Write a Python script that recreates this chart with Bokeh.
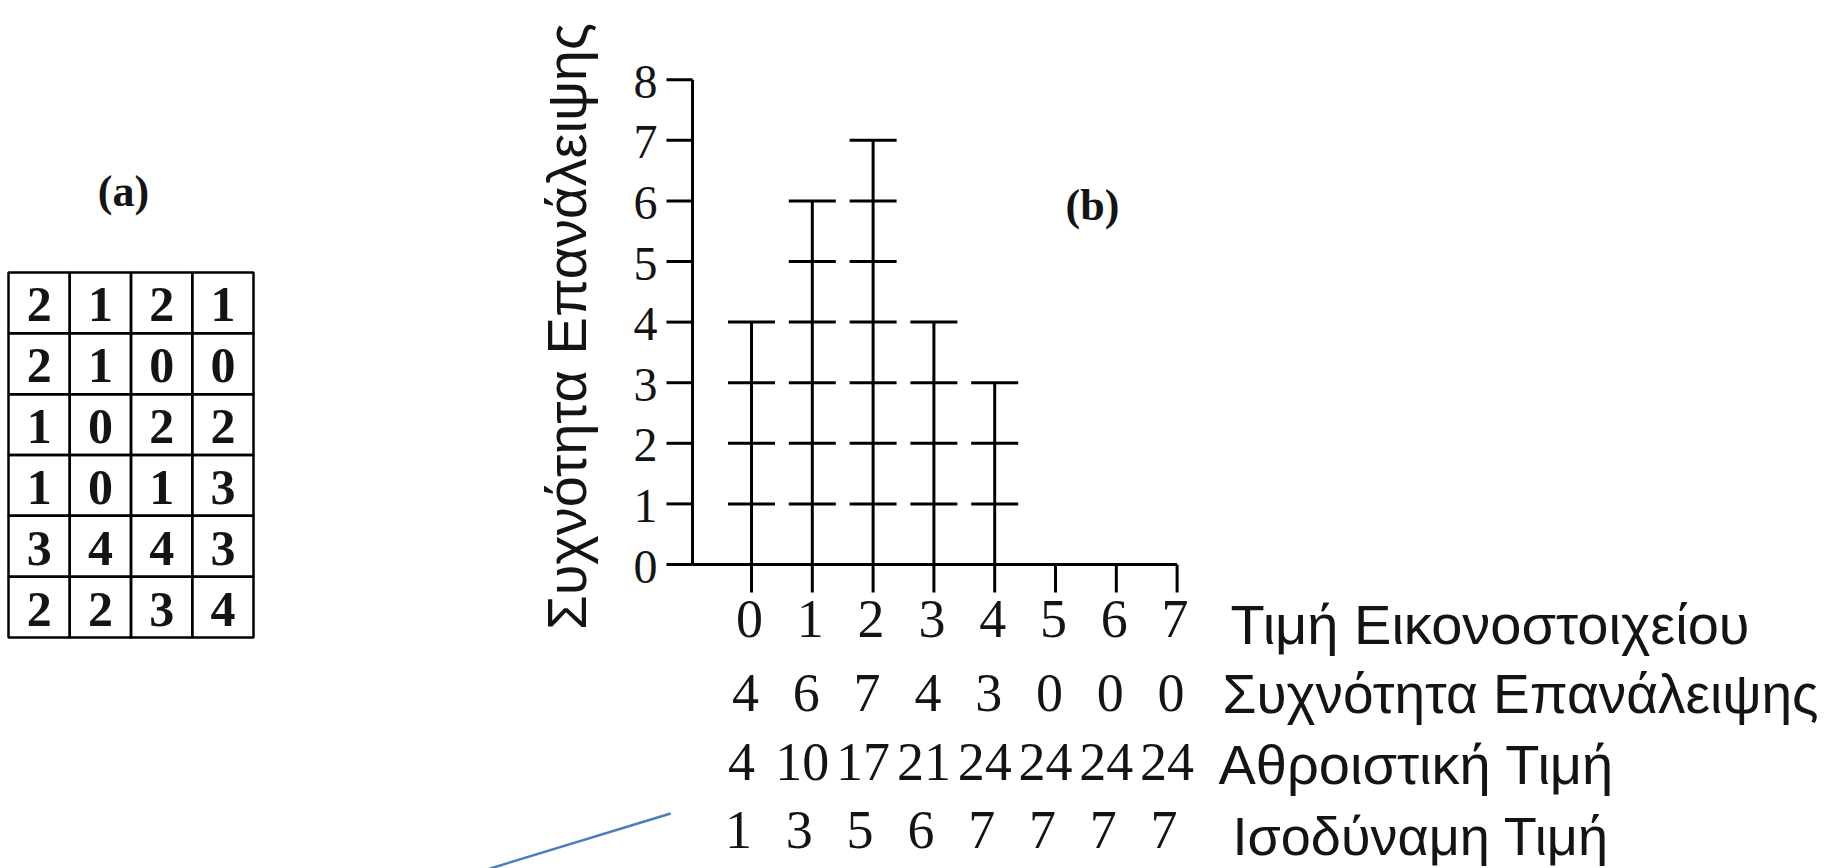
import math
from bokeh.plotting import figure
from bokeh.models import Range1d, ColumnDataSource
from bokeh.core.properties import value
from bokeh.embed import file_html
from bokeh.resources import INLINE

# ---------------- data ----------------
# (a) image matrix (rows top to bottom)
image_rows = [
    [2, 1, 2, 1],
    [2, 1, 0, 0],
    [1, 0, 2, 2],
    [1, 0, 1, 3],
    [3, 4, 4, 3],
    [2, 2, 3, 4],
]
# (b) histogram
pixel_levels = [0, 1, 2, 3, 4, 5, 6, 7]
frequency = [4, 6, 7, 4, 3, 0, 0, 0]
cumulative = [4, 10, 17, 21, 24, 24, 24, 24]
equalized = [1, 3, 5, 6, 7, 7, 7, 7]
y_ticks = [0, 1, 2, 3, 4, 5, 6, 7, 8]
y_label = "Συχνότητα Επανάλειψης"
row_labels = ["Τιμή Εικονοστοιχείου", "Συχνότητα Επανάλειψης",
              "Αθροιστική Τιμή", "Ισοδύναμη Τιμή"]
panel_labels = ["(a)", "(b)"]
# stray pointer line in chart units (level, count)
pointer_x = [-4.31, -1.33]
pointer_y = [-5.02, -4.11]

# ---------------- layout (pixel geometry of the canvas) ----------------
W, H = 1827, 868
X0, XU = 751.0, 60.8      # pixel of level 0, pixels per level
Y0, YU = 564.0, 60.6      # pixel of count 0, pixels per count


def X(px):
    return (px - X0) / XU


def Y(py):
    return (Y0 - py) / YU


SERIF = value("Liberation Serif")
SANS = value("Liberation Sans")
INK = "#141414"

p = figure(width=W, height=H, x_range=Range1d(X(0), X(W)), y_range=Range1d(Y(H), Y(0)),
           min_border=0, toolbar_location=None, output_backend="svg",
           x_axis_location=None, y_axis_location=None, outline_line_color=None)
p.grid.visible = False
p.background_fill_color = "white"
p.border_fill_color = "white"

# table ranges for panel (a)
TX0, TXU = 8.0, 61.25
TY0, TYU = 272.0, 60.83
p.extra_x_ranges = {"tx": Range1d(-TX0 / TXU, (W - TX0) / TXU)}
p.extra_y_ranges = {"ty": Range1d((H - TY0) / TYU, -TY0 / TYU)}

# ---------- panel (a): table ----------
cx, cy, ct = [], [], []
for r, row in enumerate(image_rows):
    for c, v in enumerate(row):
        cx.append(c + 0.5)
        cy.append(r + 0.5)
        ct.append(str(v))
tsrc = ColumnDataSource(dict(x=cx, y=cy, t=ct))
p.rect("x", "y", width=1, height=1, source=tsrc, fill_color=None, line_color="black",
       line_width=2.5, x_range_name="tx", y_range_name="ty")
p.text("x", "y", text="t", source=tsrc, x_range_name="tx", y_range_name="ty",
       text_font=SERIF, text_font_size="50px", text_font_style="bold",
       text_align="center", text_baseline="middle", y_offset=2, text_color=INK)

# panel labels
p.text(x=[X(123), X(1092)], y=[Y(191), Y(205)], text=panel_labels, text_font=SERIF,
       text_font_size="44px", text_font_style="bold", text_align="center",
       text_baseline="middle", text_color=INK)

# ---------- panel (b): axes ----------
lw = 3
p.segment(x0=[X(692)], y0=[0], x1=[X(692)], y1=[max(y_ticks)], line_color="black", line_width=lw)
p.segment(x0=[X(692)], y0=[0], x1=[max(pixel_levels)], y1=[0], line_color="black", line_width=lw)
p.segment(x0=[X(666)] * len(y_ticks), y0=y_ticks, x1=[X(692)] * len(y_ticks), y1=y_ticks,
          line_color="black", line_width=lw)
p.text(x=[X(657)] * len(y_ticks), y=y_ticks, text=[str(t) for t in y_ticks],
       text_font=SERIF, text_font_size="48px", text_align="right", text_baseline="middle",
       y_offset=2, text_color=INK)
# y label (reads bottom to top)
p.text(x=[X(566)], y=[Y(326)], text=[y_label], angle=math.pi / 2, text_font=SANS,
       text_font_size="56px", text_align="center", text_baseline="middle",
       text_color=INK)

# ---------- histogram stems and dashes ----------
stem_bottom = Y(592)
p.segment(x0=pixel_levels, y0=[stem_bottom] * len(pixel_levels), x1=pixel_levels, y1=frequency,
          line_color="black", line_width=lw)
dx, dy = [], []
for lv, f in zip(pixel_levels, frequency):
    for k in range(1, f + 1):
        dx.append(lv)
        dy.append(k)
half = 23.5 / XU
p.segment(x0=[d - half for d in dx], y0=dy, x1=[d + half for d in dx], y1=dy,
          line_color="black", line_width=lw)

# ---------- rows of values under the chart ----------
# (values, digit centre px, x shift px, label, label centre px, label left px, label size)
rows = [
    ([str(v) for v in pixel_levels], 618, -2, row_labels[0], 624, 1230, "56px"),
    ([str(v) for v in frequency], 692, -6, row_labels[1], 693, 1222, "55px"),
    ([str(v) for v in cumulative], 761, -10, row_labels[2], 764, 1218, "56px"),
    ([str(v) for v in equalized], 829, -13, row_labels[3], 835, 1232, "54px"),
]
for vals, cen, shift, lab, lab_cen, lab_left, lab_size in rows:
    p.text(x=[lv + shift / XU for lv in pixel_levels], y=[Y(cen)] * len(vals), text=vals,
           text_font=SERIF, text_font_size="54px", text_align="center",
           text_baseline="middle", text_color=INK)
    p.text(x=[X(lab_left)], y=[Y(lab_cen)], text=[lab], text_font=SANS,
           text_font_size=lab_size, text_align="left", text_baseline="middle",
           text_color=INK)

# stray blue pointer line
p.line(x=pointer_x, y=pointer_y, line_color="#4a7ebb", line_width=2.5)

open("out.html", "w").write(file_html(p, INLINE))
